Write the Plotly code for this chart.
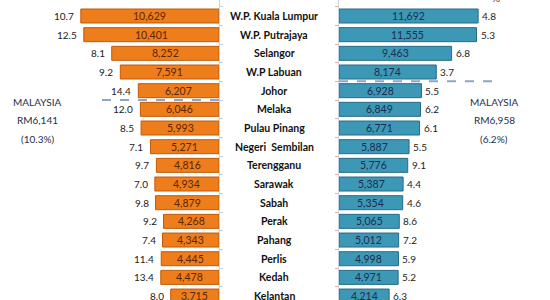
import plotly.graph_objects as go

states = ["W.P. Kuala Lumpur", "W.P. Putrajaya", "Selangor", "W.P Labuan", "Johor",
          "Melaka", "Pulau Pinang", "Negeri  Sembilan", "Terengganu", "Sarawak",
          "Sabah", "Perak", "Pahang", "Perlis", "Kedah", "Kelantan"]
income_left = [10629, 10401, 8252, 7591, 6207, 6046, 5993, 5271, 4816, 4934,
               4879, 4268, 4343, 4445, 4478, 3715]
growth_left = [10.7, 12.5, 8.1, 9.2, 14.4, 12.0, 8.5, 7.1, 9.7, 7.0,
               9.8, 9.2, 7.4, 11.4, 13.4, 8.0]
income_right = [11692, 11555, 9463, 8174, 6928, 6849, 6771, 5887, 5776, 5387,
                5354, 5065, 5012, 4998, 4971, 4214]
growth_right = [4.8, 5.3, 6.8, 3.7, 5.5, 6.2, 6.1, 5.5, 9.1, 4.4,
                4.6, 8.6, 7.2, 5.9, 5.2, 6.3]
malaysia_left = ["MALAYSIA", "RM6,141", "(10.3%)"]
malaysia_right = ["MALAYSIA", "RM6,958", "(6.2%)"]

W, H = 550, 300
FONT = "Lato"

fig = go.Figure()
fig.add_trace(go.Bar(
    x=income_left, y=states, orientation="h", xaxis="x", yaxis="y",
    marker=dict(color="#EE7D1C", line=dict(color="#C25A08", width=1)),
    showlegend=False, hoverinfo="skip"))
fig.add_trace(go.Bar(
    x=income_right, y=states, orientation="h", xaxis="x2", yaxis="y2",
    marker=dict(color="#3D98B6", line=dict(color="#256C86", width=1)),
    showlegend=False, hoverinfo="skip"))

ann = []
for s, v, g in zip(states, income_left, growth_left):
    ann.append(dict(x=v / 2, y=s, xref="x", yref="y", text=f"{v:,}", showarrow=False,
                    xanchor="center", font=dict(family=FONT, size=10.5, color="#5A2600")))
    ann.append(dict(x=v, y=s, xref="x", yref="y", text=f"{g:.1f}", showarrow=False,
                    xanchor="right", xshift=-5, font=dict(family=FONT, size=10, color="#222")))
for s, v, g in zip(states, income_right, growth_right):
    ann.append(dict(x=v / 2, y=s, xref="x2", yref="y2", text=f"{v:,}", showarrow=False,
                    xanchor="center", font=dict(family=FONT, size=10.5, color="#1B2D4E")))
    ann.append(dict(x=v, y=s, xref="x2", yref="y2", text=f"{g:.1f}", showarrow=False,
                    xanchor="left", xshift=2, font=dict(family=FONT, size=10, color="#222")))
for s in states:
    ann.append(dict(x=274 / W, y=s, xref="paper", yref="y", text=f"<b>{s}</b>",
                    showarrow=False, xanchor="center",
                    font=dict(family=FONT, size=10.5, color="#111")))
for i, t in enumerate(malaysia_left):
    ann.append(dict(x=37 / W, y=1 - (102 + 18.5 * i) / H, xref="paper", yref="paper",
                    text=t, showarrow=False, xanchor="center", yanchor="middle",
                    font=dict(family=FONT, size=10, color="#1F2D4A")))
for i, t in enumerate(malaysia_right):
    ann.append(dict(x=494 / W, y=1 - (102 + 18.5 * i) / H, xref="paper", yref="paper",
                    text=t, showarrow=False, xanchor="center", yanchor="middle",
                    font=dict(family=FONT, size=10, color="#1F2D4A")))
ann.append(dict(x=496 / W, y=1, xref="paper", yref="paper", text="%", showarrow=False,
                xanchor="center", yanchor="middle", yshift=2,
                font=dict(family=FONT, size=10, color="#333")))

shapes = [
    dict(type="line", xref="x", yref="y", x0=0, x1=9150, y0=4.5, y1=4.5,
         line=dict(color="#8EA6C6", width=2, dash="dash")),
    dict(type="line", xref="x2", yref="y2", x0=0, x1=13400, y0=3.5, y1=3.5,
         line=dict(color="#8EA6C6", width=2, dash="dash")),
]

yr = [-0.857 + 300 / 18.67, -0.857]
yax = dict(type="category", categoryorder="array", categoryarray=states, range=yr,
           showgrid=False, zeroline=False, showticklabels=False, showline=True,
           linecolor="#C9D1DD", linewidth=1, ticks="outside", tickson="boundaries",
           ticklen=3, tickcolor="#C9D1DD")

fig.update_layout(
    width=W, height=H, margin=dict(l=0, r=0, t=0, b=0),
    paper_bgcolor="white", plot_bgcolor="white", bargap=0.25,
    xaxis=dict(domain=[0, 219 / W], range=[219 / 0.013, 0], visible=False),
    xaxis2=dict(domain=[339 / W, 1], range=[0, 211 / 0.0119], visible=False),
    yaxis=dict(anchor="x", side="right", **yax),
    yaxis2=dict(anchor="x2", side="left", **{**yax, "tickcolor": "#E0B0B0"}),
    annotations=ann, shapes=shapes,
)

fig.write_html("out.html")
